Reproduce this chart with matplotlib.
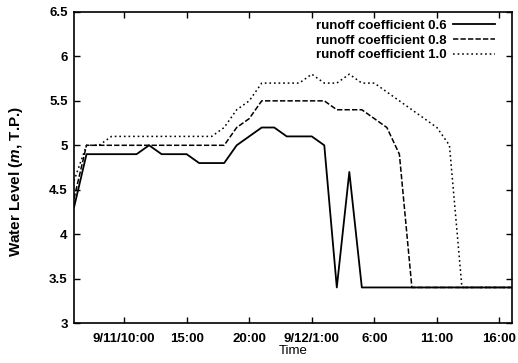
import matplotlib
matplotlib.use("Agg")
import matplotlib.pyplot as plt

plt.rcParams["font.family"] = ["Liberation Sans", "DejaVu Sans"]
plt.rcParams["font.weight"] = "bold"
plt.rcParams["mathtext.fontset"] = "custom"
plt.rcParams["mathtext.it"] = "Liberation Sans:italic:bold"
plt.rcParams["mathtext.rm"] = "Liberation Sans:bold"

# hours counted from 9/11 0:00
hours = list(range(6, 42))

level_06 = [4.3, 4.9, 4.9, 4.9, 4.9, 4.9, 5.0, 4.9, 4.9, 4.9,
            4.8, 4.8, 4.8, 5.0, 5.1, 5.2, 5.2, 5.1, 5.1, 5.1,
            5.0, 3.4, 4.7, 3.4, 3.4, 3.4, 3.4, 3.4, 3.4, 3.4,
            3.4, 3.4, 3.4, 3.4, 3.4, 3.4]
level_08 = [4.4, 5.0, 5.0, 5.0, 5.0, 5.0, 5.0, 5.0, 5.0, 5.0,
            5.0, 5.0, 5.0, 5.2, 5.3, 5.5, 5.5, 5.5, 5.5, 5.5,
            5.5, 5.4, 5.4, 5.4, 5.3, 5.2, 4.9, 3.4, 3.4, 3.4,
            3.4, 3.4, 3.4, 3.4, 3.4, 3.4]
level_10 = [4.6, 5.0, 5.0, 5.1, 5.1, 5.1, 5.1, 5.1, 5.1, 5.1,
            5.1, 5.1, 5.2, 5.4, 5.5, 5.7, 5.7, 5.7, 5.7, 5.8,
            5.7, 5.7, 5.8, 5.7, 5.7, 5.6, 5.5, 5.4, 5.3, 5.2,
            5.0, 3.4, 3.4, 3.4, 3.4, 3.4]

series_labels = ["runoff coefficient 0.6", "runoff coefficient 0.8",
                 "runoff coefficient 1.0"]

x_ticks = [10, 15, 20, 25, 30, 35, 40]
x_tick_labels = ["9/11/10:00", "15:00", "20:00", "9/12/1:00", "6:00",
                 "11:00", "16:00"]
y_ticks = [3, 3.5, 4, 4.5, 5, 5.5, 6, 6.5]
y_tick_labels = ["3", "3.5", "4", "4.5", "5", "5.5", "6", "6.5"]

fig = plt.figure(figsize=(5.18, 3.63), dpi=100)
ax = fig.add_axes([74 / 518, 1 - 323 / 363, 438 / 518, 311 / 363])

ax.plot(hours, level_06, color="black", lw=1.3, linestyle="-",
        label=series_labels[0])
ax.plot(hours, level_08, color="black", lw=1.1, linestyle=(0, (3.5, 1.4)),
        label=series_labels[1])
ax.plot(hours, level_10, color="black", lw=1.1, linestyle=(0, (1.1, 1.9)),
        label=series_labels[2])

ax.set_xlim(6, 41)
ax.set_ylim(3, 6.5)
ax.set_xticks(x_ticks)
ax.set_xticklabels(x_tick_labels)
ax.set_yticks(y_ticks)
ax.set_yticklabels(y_tick_labels)

ax.tick_params(direction="in", length=4.5, width=1.0, top=True, right=True,
               labelsize=9.5)
ax.tick_params(axis="x", pad=7.5)
ax.tick_params(axis="y", pad=4.5)
for sp in ax.spines.values():
    sp.set_linewidth(1.2)

ax.set_xlabel("Time", fontsize=9.5, labelpad=0)
fig.text(16.5 / 518, 0.5, "Water Level ($m$, T.P.)", rotation=90,
         ha="center", va="center", fontsize=11)

ax.legend(loc="upper right", bbox_to_anchor=((495 - 74) / 438, 0.976),
          frameon=False, markerfirst=False, handlelength=3.2,
          handletextpad=0.5, labelspacing=0.2, borderaxespad=0,
          borderpad=0, fontsize=9.5)

fig.savefig("out.png", dpi=100)
